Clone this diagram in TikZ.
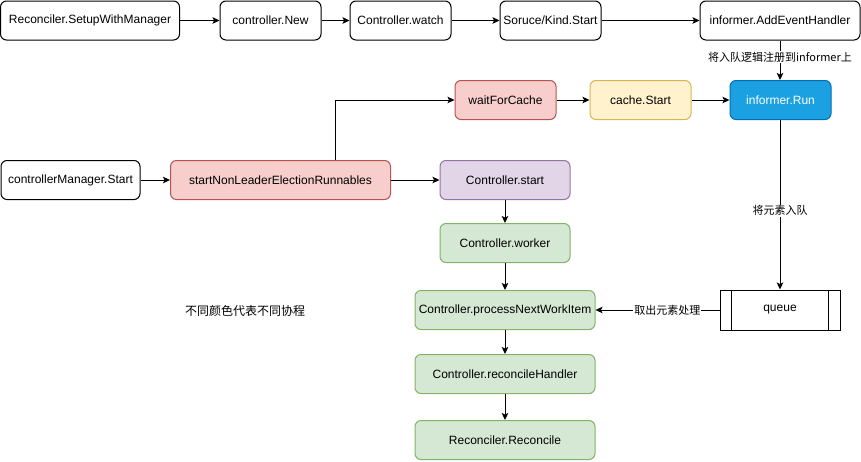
\documentclass[tikz,border=0pt]{standalone}
\usepackage{fontspec}
\setmainfont{Liberation Sans}
\newfontfamily\cjk{Noto Sans CJK SC}
\usetikzlibrary{arrows.meta}
\definecolor{redfill}{HTML}{F8CECC}
\definecolor{redline}{HTML}{B85450}
\definecolor{yelfill}{HTML}{FFF2CC}
\definecolor{yelline}{HTML}{D6B656}
\definecolor{bluefill}{HTML}{1BA1E2}
\definecolor{blueline}{HTML}{006EAF}
\definecolor{purfill}{HTML}{E1D5E7}
\definecolor{purline}{HTML}{9673A6}
\definecolor{grnfill}{HTML}{D5E8D4}
\definecolor{grnline}{HTML}{82B366}
\tikzset{
  box/.style={draw, line width=1pt, rounded corners=6pt, minimum height=39pt, inner sep=0pt,
    font=\fontsize{12}{14}\selectfont, fill=white},
  redbox/.style={box, fill=redfill, draw=redline},
  yelbox/.style={box, fill=yelfill, draw=yelline},
  bluebox/.style={box, fill=bluefill, draw=blueline, text=white},
  purbox/.style={box, fill=purfill, draw=purline},
  grnbox/.style={box, fill=grnfill, draw=grnline},
  arr/.style={line width=1pt, -{Stealth[length=7pt,width=6.5pt,inset=1.5pt]}},
  lbl/.style={fill=white, inner sep=1pt, font=\cjk\fontsize{11}{13}\selectfont}
}
\begin{document}
\begin{tikzpicture}[x=1pt,y=-1pt]
\useasboundingbox (0,0) rectangle (861,461);
% top row
\node[box, minimum width=179pt] (setup) at (90,20.5) {Reconciler.SetupWithManager};
\node[box, minimum width=101pt] (new) at (270.5,20.5) {controller.New};
\node[box, minimum width=101pt] (watch) at (400.5,20.5) {Controller.watch};
\node[box, minimum width=101pt] (kind) at (550.5,20.5) {Soruce/Kind.Start};
\node[box, minimum width=160pt] (addev) at (780,20.5) {informer.AddEventHandler};
% second row
\node[redbox, minimum width=101pt] (wfc) at (505.5,100) {waitForCache};
\node[yelbox, minimum width=101pt] (cache) at (640.5,100) {cache.Start};
\node[bluebox, minimum width=101pt] (run) at (780.5,100) {informer.Run};
% third row
\node[box, minimum width=139pt] (cms) at (70.5,180) {controllerManager.Start};
\node[redbox, minimum width=220pt] (snl) at (280.5,180) {startNonLeaderElectionRunnables};
\node[purbox, minimum width=130pt] (cstart) at (505,180) {Controller.start};
% green column
\node[grnbox, minimum width=130pt] (worker) at (505,243) {Controller.worker};
\node[grnbox, minimum width=180pt] (pnwi) at (505,310) {Controller.processNextWorkItem};
\node[grnbox, minimum width=180pt] (rh) at (505,374) {Controller.reconcileHandler};
\node[grnbox, minimum width=180pt] (rr) at (505,440) {Reconciler.Reconcile};
% queue
\node[draw, line width=1pt, minimum width=120pt, minimum height=40pt, inner sep=0pt,
  font=\fontsize{12}{14}\selectfont] (queue) at (780,310) {queue};
\draw[line width=1pt] ([xshift=12pt]queue.north west) -- ([xshift=12pt]queue.south west);
\draw[line width=1pt] ([xshift=-12pt]queue.north east) -- ([xshift=-12pt]queue.south east);
% legend text
\node[font=\cjk\fontsize{12}{14}\selectfont] (legend) at (245,311) {不同颜色代表不同协程};
% connectors
\draw[arr] (setup) -- (new);
\draw[arr] (new) -- (watch);
\draw[arr] (watch) -- (kind);
\draw[arr] (kind) -- (addev);
\draw[arr] (addev) -- node[lbl, pos=0.42] {将入队逻辑注册到informer上} (addev |- run.north);
\draw[arr] (cms) -- (snl);
\draw[arr] ([xshift=55pt]snl.north) |- (wfc.west);
\draw[arr] (snl) -- (cstart);
\draw[arr] (wfc) -- (cache);
\draw[arr] (cache) -- (run);
\draw[arr] (run.south -| queue.north) -- node[lbl, pos=0.535] {将元素入队} (queue.north);
\draw[arr] (cstart) -- (worker);
\draw[arr] (worker) -- (pnwi);
\draw[arr] (pnwi) -- (rh);
\draw[arr] (rh) -- (rr);
\draw[arr] (queue) -- node[lbl, pos=0.42] {取出元素处理} (pnwi);
\end{tikzpicture}
\end{document}
